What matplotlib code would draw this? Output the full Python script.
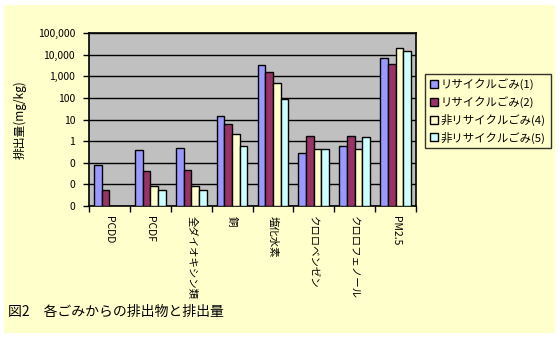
import numpy as np
import matplotlib
matplotlib.use('Agg')
import matplotlib.pyplot as plt
from matplotlib.patches import Rectangle

plt.rcParams['font.family'] = ['Noto Sans CJK JP', 'DejaVu Sans']

categories = ['PCDD', 'PCDF', '全ダイオキシン類', '銅', '塩化水素',
              'クロロベンゼン', 'クロロフェノール', 'PM2.5']
series_names = ['リサイクルごみ(1)', 'リサイクルごみ(2)',
                '非リサイクルごみ(4)', '非リサイクルごみ(5)']
recycle_1 = [0.077, 0.38, 0.47, 14.3, 3300, 0.275, 0.58, 6950]
recycle_2 = [0.0043, 0.040, 0.045, 6.1, 1560, 1.7, 1.7, 3660]
nonrecycle_4 = [np.nan, 0.0073, 0.0073, 2.1, 480, 0.42, 0.42, 20200]
nonrecycle_5 = [np.nan, 0.0043, 0.0043, 0.58, 91, 0.42, 1.52, 14650]
ytick_values = [0.001, 0.01, 0.1, 1, 10, 100, 1000, 10000, 100000]

colors = ['#9999FF', '#993366', '#FFFFCC', '#CCFFFF']
series = [recycle_1, recycle_2, nonrecycle_4, nonrecycle_5]

fig = plt.figure(figsize=(5.6, 3.38), dpi=100)
fig.patch.set_facecolor('white')
fig.patches.append(Rectangle((4/560, 1-333/338), 551/560, 328/338,
                             transform=fig.transFigure, facecolor='#FFFFCC',
                             edgecolor='none', zorder=-10))

ax = fig.add_axes([89/560, 1-206/338, 327/560, 173/338])
ax.set_facecolor('#C0C0C0')

x = np.arange(len(categories))
w = 0.1875
for i, (vals, c, name) in enumerate(zip(series, colors, series_names)):
    ax.bar(x - 0.375 + w*(i+0.5), vals, width=w, bottom=0.001, color=c,
           edgecolor='black', linewidth=1, label=name, zorder=3)

ax.set_yscale('log')
ax.set_ylim(0.001, 100000)
ax.set_xlim(-0.5, len(categories)-0.5)
ax.set_yticks(ytick_values)
ax.set_yticklabels(['0' if v < 1 else f'{v:,}' for v in ytick_values])
ax.minorticks_off()
ax.yaxis.grid(True, color='black', linewidth=1, zorder=1)
ax.tick_params(axis='y', labelsize=7.5, length=4, width=1, pad=6)

ax.set_xticks(np.arange(len(categories)+1) - 0.5)
ax.set_xticklabels([])
ax.set_xticks(x, minor=True)
ax.set_xticklabels(categories, minor=True, rotation=-90, fontsize=7.5,
                   va='top', ha='center')
ax.tick_params(axis='x', which='major', length=4, width=1)
ax.tick_params(axis='x', which='minor', length=0, pad=7)
for s in ax.spines.values():
    s.set_linewidth(1.2)

ax.set_ylabel('排出量(mg/kg)', fontsize=8.5, labelpad=8)

leg = fig.legend(loc='upper left', bbox_to_anchor=(425/560, 1-74/338),
                 frameon=True, fancybox=False, fontsize=8.2,
                 handlelength=0.7, handleheight=0.7, handletextpad=0.3,
                 borderaxespad=0, labelspacing=0.5, borderpad=0.4)
leg.get_frame().set_facecolor('#FFFFCC')
leg.get_frame().set_edgecolor('black')
leg.get_frame().set_linewidth(1)

fig.text(8/560, 1-312/338, '図2　各ごみからの排出物と排出量', fontsize=10,
         va='center', ha='left')

fig.savefig('out.png', dpi=100, facecolor=fig.get_facecolor())
